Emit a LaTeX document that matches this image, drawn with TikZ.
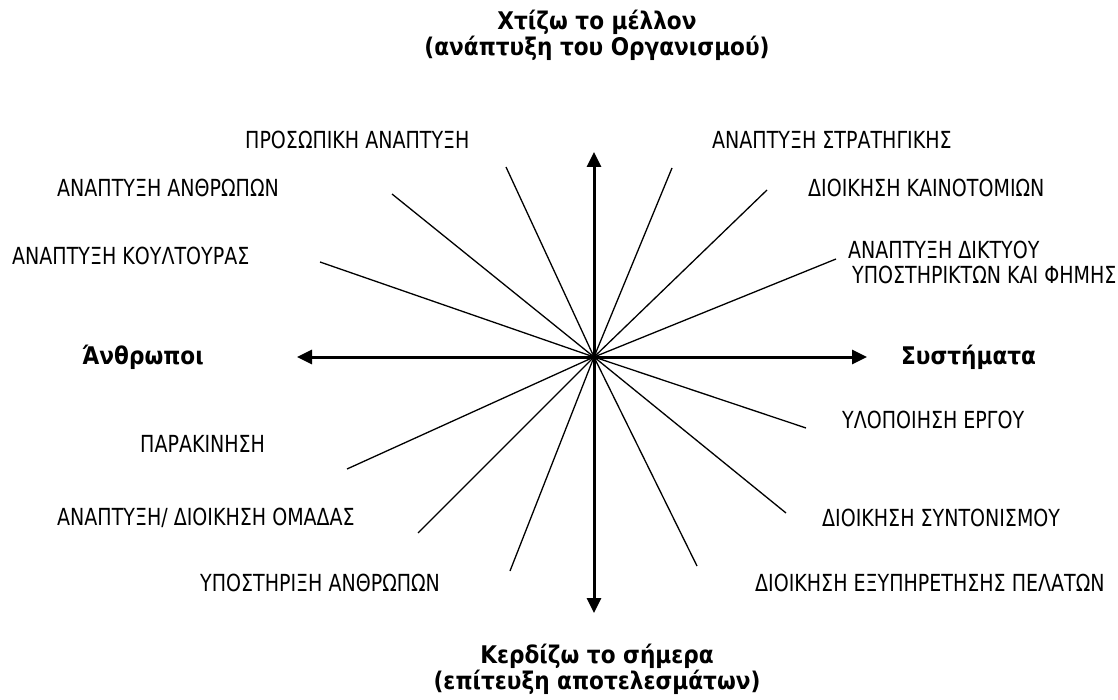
\documentclass[tikz,border=0pt]{standalone}
\usepackage{fontspec}
\setmainfont{DejaVu Sans}[FakeStretch=0.81]
\newfontfamily\titlefont{DejaVu Sans}[FakeStretch=0.89]
\usetikzlibrary{arrows.meta}
\tikzset{
  axis/.style={line width=3pt, -{Triangle[length=15pt,width=14pt]}},
  spoke/.style={line width=1.3pt},
  lbl/.style={inner sep=0pt, font=\fontsize{23.5}{25}\selectfont, align=left},
  ttl/.style={inner sep=0pt, font=\titlefont\fontsize{24.3}{26}\selectfont\bfseries, align=center}
}
\begin{document}
\begin{tikzpicture}[x=1pt,y=-1pt]
\useasboundingbox (0,0) rectangle (1118,700);
\fill[white] (0,0) rectangle (1118,700);
% centre and axis ends
\coordinate (c) at (594,357);
\coordinate (up) at (594,152);
\coordinate (down) at (594,613);
\coordinate (left) at (297,357);
\coordinate (right) at (867,357);
\draw[axis] (c) -- (up);
\draw[axis] (c) -- (down);
\draw[axis] (c) -- (left);
\draw[axis] (c) -- (right);
% spoke ends
\coordinate (e1) at (506,167);
\coordinate (e2) at (392,194);
\coordinate (e3) at (320,262);
\coordinate (e4) at (672,168);
\coordinate (e5) at (767,190);
\coordinate (e6) at (836,259);
\coordinate (e7) at (806,428);
\coordinate (e8) at (786,513);
\coordinate (e9) at (697,566);
\coordinate (e10) at (347,469);
\coordinate (e11) at (418,533);
\coordinate (e12) at (510,571);
\foreach \i in {1,...,12} \draw[spoke] (c) -- (e\i);
% titles
\node[ttl, anchor=north] (top) at (597,10) {Χτίζω το μέλλον\\(ανάπτυξη του Οργανισμού)};
\node[ttl, anchor=north] (bottom) at (597,644) {Κερδίζω το σήμερα\\(επίτευξη αποτελεσμάτων)};
\node[ttl, anchor=west] (people) at (82,357) {Άνθρωποι};
\node[ttl, anchor=west] (systems) at (901,357) {Συστήματα};
% labels
\node[lbl, anchor=west] (l1) at (245,140) {ΠΡΟΣΩΠΙΚΗ ΑΝΑΠΤΥΞΗ};
\node[lbl, anchor=west] (l2) at (57,188) {ΑΝΑΠΤΥΞΗ ΑΝΘΡΩΠΩΝ};
\node[lbl, anchor=west] (l3) at (12,256) {ΑΝΑΠΤΥΞΗ ΚΟΥΛΤΟΥΡΑΣ};
\node[lbl, anchor=west] (l4) at (712,140) {ΑΝΑΠΤΥΞΗ ΣΤΡΑΤΗΓΙΚΗΣ};
\node[lbl, anchor=west] (l5) at (808,188) {ΔΙΟΙΚΗΣΗ ΚΑΙΝΟΤΟΜΙΩΝ};
\node[lbl, anchor=north west] (l6) at (848,241) {ΑΝΑΠΤΥΞΗ ΔΙΚΤΥΟΥ\\\hspace*{4pt}ΥΠΟΣΤΗΡΙΚΤΩΝ ΚΑΙ ΦΗΜΗΣ};
\node[lbl, anchor=west] (l7) at (842,420) {ΥΛΟΠΟΙΗΣΗ ΕΡΓΟΥ};
\node[lbl, anchor=west] (l8) at (140,444) {ΠΑΡΑΚΙΝΗΣΗ};
\node[lbl, anchor=west] (l9) at (57,518) {ΑΝΑΠΤΥΞΗ/ ΔΙΟΙΚΗΣΗ ΟΜΑΔΑΣ};
\node[lbl, anchor=west] (l10) at (822,518) {ΔΙΟΙΚΗΣΗ ΣΥΝΤΟΝΙΣΜΟΥ};
\node[lbl, anchor=west] (l11) at (200,583) {ΥΠΟΣΤΗΡΙΞΗ ΑΝΘΡΩΠΩΝ};
\node[lbl, anchor=west] (l12) at (755,583) {ΔΙΟΙΚΗΣΗ ΕΞΥΠΗΡΕΤΗΣΗΣ ΠΕΛΑΤΩΝ};
\end{tikzpicture}
\end{document}
